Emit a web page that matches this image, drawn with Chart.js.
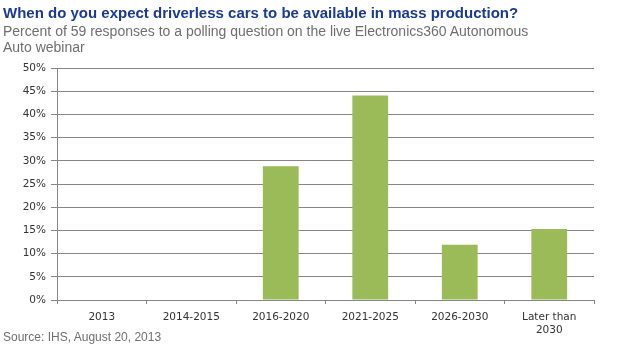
<!DOCTYPE html>
<html><head><meta charset="utf-8">
<script src="https://cdn.jsdelivr.net/npm/chart.js@4"></script>
<style>
html,body{margin:0;padding:0;background:#fff;}
#wrap{position:relative;width:620px;height:349px;overflow:hidden;}
canvas{position:absolute;left:0;top:0;}
.t{position:absolute;left:3px;font-family:"Liberation Sans",Arial,sans-serif;white-space:nowrap;}
#title{top:4px;font-size:15px;font-weight:bold;color:#1a3a94;}
#sub{top:23px;font-size:14px;color:#6f6f6f;line-height:16px;}
#src{top:330px;font-size:12px;color:#6f6f6f;}
</style></head>
<body><div id="wrap">
<canvas id="c" width="620" height="349"></canvas>
<div class="t" id="title">When do you expect driverless cars to be available in mass production?</div>
<div class="t" id="sub">Percent of 59 responses to a polling question on the live Electronics360 Autonomous<br>Auto webinar</div>
<div class="t" id="src">Source: IHS, August 20, 2013</div>
</div>
<script>
const categories = ['2013', '2014-2015', '2016-2020', '2021-2025', '2026-2030', ['Later than', '2030']];
const percentResponses = [0, 0, 28.8, 44.1, 11.9, 15.3];
const yTicks = [0, 5, 10, 15, 20, 25, 30, 35, 40, 45, 50];

const tickFont = {family: '"DejaVu Sans", Tahoma, sans-serif', size: 10.5};
new Chart(document.getElementById('c'), {
  type: 'bar',
  data: {
    labels: categories,
    datasets: [{
      data: percentResponses,
      backgroundColor: '#9bbb59',
      borderWidth: 0,
      categoryPercentage: 1,
      barPercentage: 0.4
    }]
  },
  options: {
    responsive: false,
    animation: false,
    devicePixelRatio: 1,
    layout: {padding: {left: 0, right: 26, top: 68, bottom: 0}},
    plugins: {legend: {display: false}, tooltip: {enabled: false}},
    scales: {
      y: {
        min: 0, max: 50,
        afterBuildTicks: s => { s.ticks = yTicks.map(v => ({value: v})); },
        afterFit: s => { s.width = 57; },
        ticks: {callback: v => v + '%', color: '#333', font: tickFont, padding: 5},
        grid: {color: '#868686', lineWidth: 1, tickLength: 6, drawTicks: true},
        border: {color: '#868686', width: 1}
      },
      x: {
        afterFit: s => { s.height = 49; },
        ticks: {color: '#333', font: tickFont, maxRotation: 0, padding: 7},
        grid: {display: true, drawOnChartArea: false, offset: true, color: '#868686', tickLength: 4},
        border: {color: '#868686', width: 1}
      }
    }
  }
});
</script>
</body></html>
